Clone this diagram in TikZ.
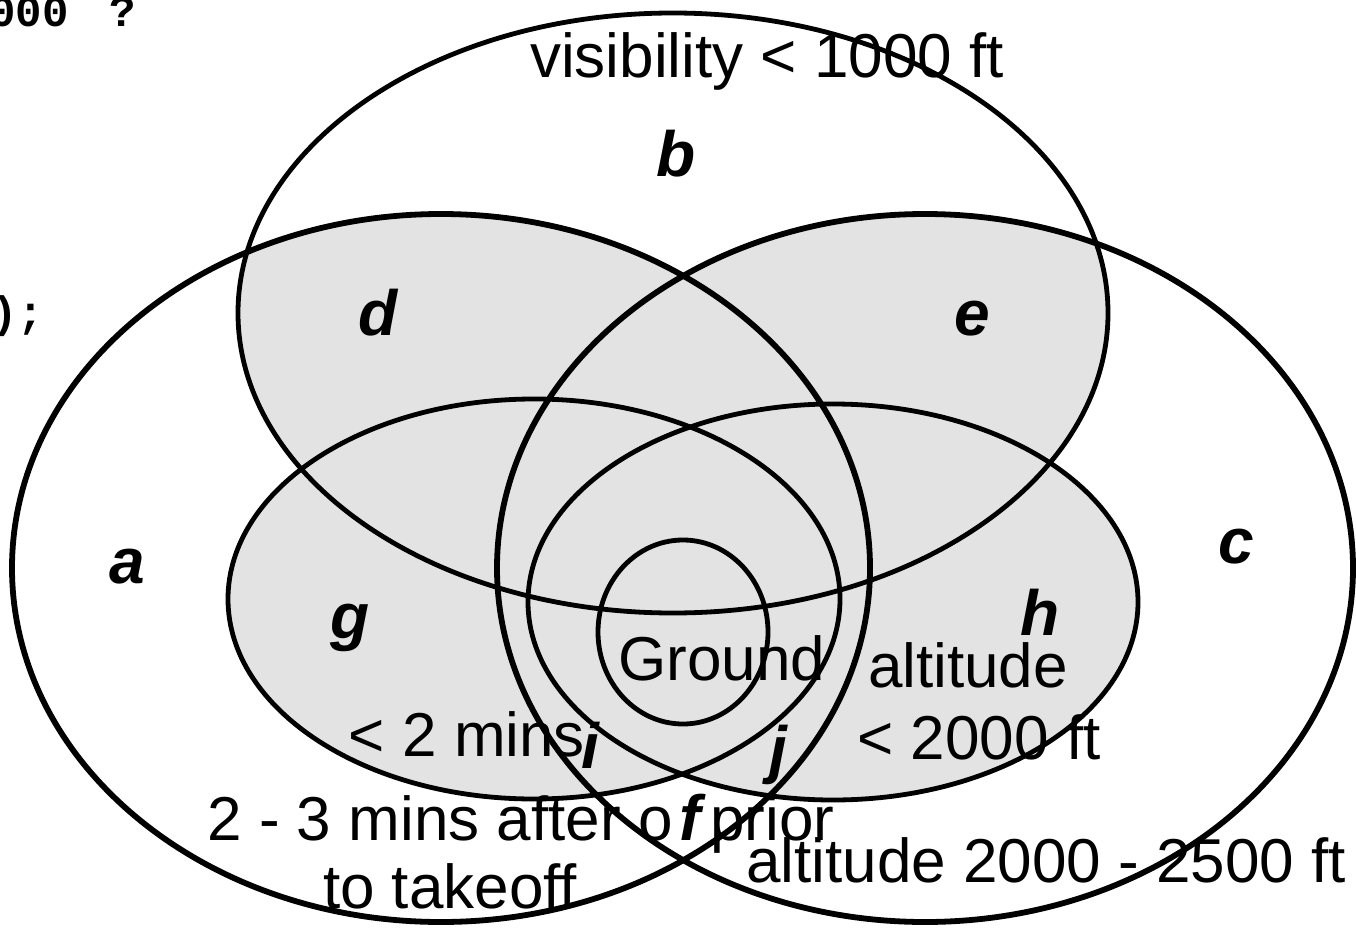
\documentclass[tikz,border=0pt]{standalone}
\usepackage{fontspec}
\setmainfont{Liberation Sans}
\newfontfamily\codefont{Liberation Mono}
\begin{document}
\begin{tikzpicture}[x=1pt,y=-1pt,
  txt/.style={inner sep=0pt,anchor=base,font=\fontsize{62}{70}\selectfont},
  lbl/.style={inner sep=0pt,anchor=base,font=\fontsize{64}{70}\selectfont\bfseries\itshape},
  code/.style={inner sep=0pt,anchor=base,font=\fontsize{44}{50}\selectfont\codefont\bfseries},
  shade/.style={fill=black!11},
  thick line/.style={line width=5.8pt},
  mid line/.style={line width=4.8pt}]
\useasboundingbox (0,0) rectangle (1356,928);
% shading
\begin{scope}
  \clip (673,313) ellipse [x radius=435pt, y radius=300pt];
  \fill[shade] (441,568) ellipse [x radius=429pt, y radius=354pt];
  \fill[shade] (925,568) ellipse [x radius=428pt, y radius=354pt];
\end{scope}
\fill[shade] (534,599) ellipse [x radius=306pt, y radius=200pt];
\fill[shade] (833,602) ellipse [x radius=305pt, y radius=198pt];
% outlines
\draw[thick line] (441,568) ellipse [x radius=429pt, y radius=354pt];
\draw[thick line] (925,568) ellipse [x radius=428pt, y radius=354pt];
\draw[mid line] (673,313) ellipse [x radius=435pt, y radius=300pt];
\draw[mid line] (534,599) ellipse [x radius=306pt, y radius=200pt];
\draw[mid line] (833,602) ellipse [x radius=305pt, y radius=198pt];
\draw[mid line] (683,632) ellipse [x radius=85pt, y radius=92pt];
% texts
\node[txt] (vis) at (767,78) {visibility < 1000 ft};
\node[txt] (ground) at (722,680) {Ground};
\node[txt] (alt1) at (968,687) {altitude};
\node[txt] (alt2) at (979,759) {< 2000 ft};
\node[txt] (mins) at (467,756) {< 2 mins};
\node[txt] (take1) at (521,840) {2 - 3 mins after or prior};
\node[txt] (take2) at (450,908) {to takeoff};
\node[txt] (alt3) at (1046,882) {altitude 2000 - 2500 ft};
% region labels
\node[lbl] (la) at (127,583) {a};
\node[lbl] (lb) at (676,177) {b};
\node[lbl] (lc) at (1236,563) {c};
\node[lbl] (ld) at (378,335) {d};
\node[lbl] (le) at (972,335) {e};
\node[lbl,fill=white,inner xsep=4pt] (lf) at (690,840) {f};
\node[lbl] (lg) at (350,638) {g};
\node[lbl] (lh) at (1040,635) {h};
\node[lbl] (li) at (590,768) {i};
\node[lbl] (lj) at (778,771) {j};
% code fragments
\node[code] (c1) at (29,27) {000};
\node[code] (c2) at (123,27) {?};
\node[code] (c3) at (18,327) {);};
\end{tikzpicture}
\end{document}
